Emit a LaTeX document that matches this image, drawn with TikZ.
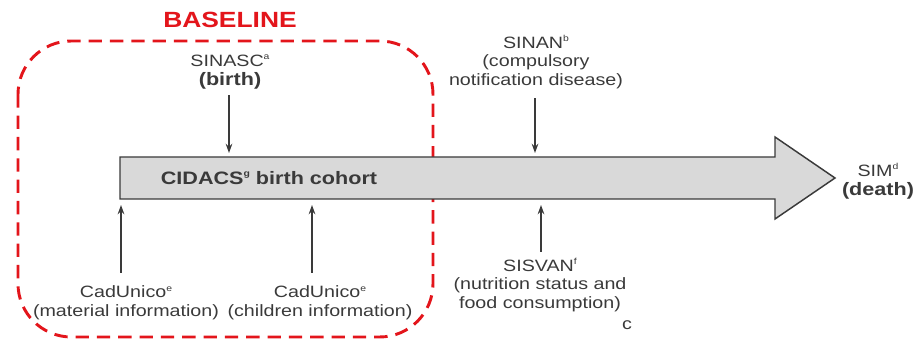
\documentclass[tikz,border=0pt]{standalone}
\usepackage{fontspec}
\setmainfont{Liberation Sans}[FakeStretch=1.2]
\usetikzlibrary{arrows.meta}

\definecolor{txtgray}{HTML}{3A3A3A}
\definecolor{baselinered}{HTML}{E3151B}
\definecolor{cohortfill}{HTML}{D9D9D9}

\tikzset{every picture/.style={line width=0.75pt}}
\tikzset{
  lbl/.style={inner sep=2pt, align=center, text=txtgray, font=\fontsize{12.3}{14}\selectfont},
  feed/.style={draw=txtgray, line width=1.1pt, -{Stealth[length=7pt,width=5pt]}},
}
\newcommand{\bolder}[1]{{\fontsize{13.5}{14}\selectfont\bfseries #1}}
\newcommand{\supmark}[1]{\raisebox{0.42em}{\fontsize{6.5}{6}\selectfont #1}}

\begin{document}
\begin{tikzpicture}[x=0.75pt,y=0.75pt,yscale=-1,xscale=1]
\useasboundingbox (0,0) rectangle (915,341);

%Baseline frame
\draw [baselinered, line width=2.2pt, dash pattern=on 10pt off 6pt, rounded corners=40pt] (18,41) rectangle (433,337);
% Text Node
\node (baseline) at (230,20) [inner sep=0pt, text=baselinered, font=\fontsize{16.5}{16}\selectfont\bfseries] {BASELINE};

%Cohort arrow
\draw [draw=txtgray, fill=cohortfill, line width=1.1pt] (120,157) -- (775,157) -- (775,137) -- (835,178) -- (775,219) -- (775,199) -- (120,199) -- cycle;
% Text Node
\node (cohort) at (269,178) [inner sep=0pt, text=txtgray] {\bolder{CIDACS\supmark{g} birth cohort}};

% Text Node
\node [lbl] (sinasc) at (230,72) {SINASC\supmark{a}\\\bolder{(birth)}};
% Text Node
\node [lbl] (sinan) at (536,62) {SINAN\supmark{b}\\(compulsory\\notification disease)};
% Text Node
\node [lbl] (sisvan) at (540,285) {SISVAN\supmark{f}\\(nutrition status and\\food consumption)};
% Text Node
\node [lbl] (cadmother) at (126,303) {CadUnico\supmark{e}\\(material information)};
% Text Node
\node [lbl] (cadchild) at (320,303) {CadUnico\supmark{e}\\(children information)};
% Text Node
\node [lbl] (sim) at (878,181) {SIM\supmark{d}\\\bolder{(death)}};
% Text Node
\node [lbl] (stray) at (627,325) {c};

%Straight Lines
\coordinate (tipsinasc) at (229,153);
\coordinate (tipsinan) at (535,153);
\coordinate (tipsisvan) at (541,205);
\coordinate (tipmother) at (121,205);
\coordinate (tipchild) at (312,205);
\draw [feed] (sinasc.south -| tipsinasc) ++(0,3) -- (tipsinasc);
\draw [feed] (sinan.south -| tipsinan) ++(0,6) -- (tipsinan);
\draw [feed] (sisvan.north -| tipsisvan) ++(0,-3) -- (tipsisvan);
\draw [feed] (cadmother.north -| tipmother) ++(0,-10) -- (tipmother);
\draw [feed] (cadchild.north -| tipchild) ++(0,-10) -- (tipchild);

\end{tikzpicture}
\end{document}
